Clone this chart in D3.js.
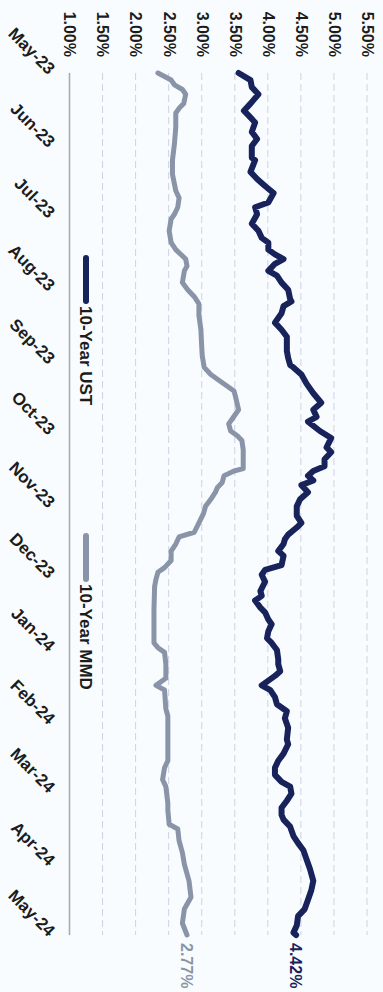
<!DOCTYPE html>
<html>
<head>
<meta charset="utf-8">
<script src="https://cdn.jsdelivr.net/npm/d3@7"></script>
<style>
  html, body { margin: 0; padding: 0; background: #f9fcfe; }
  svg { display: block; }
  text { font-family: "Liberation Sans", Arial, sans-serif; }
</style>
</head>
<body>
<svg id="chart" width="383" height="992"></svg>
<script>
// Yield axis ticks (percent)
const valueTicks = [1.0, 1.5, 2.0, 2.5, 3.0, 3.5, 4.0, 4.5, 5.0, 5.5];

// Monthly date ticks
const monthTicks = ["2023-05-17", "2023-06-17", "2023-07-17", "2023-08-17", "2023-09-17",
  "2023-10-17", "2023-11-17", "2023-12-17", "2024-01-17", "2024-02-17",
  "2024-03-17", "2024-04-17", "2024-05-17"];

const seriesNames = ["10-Year UST", "10-Year MMD"];

// 10-Year US Treasury yield
const ustDates = ["2023-05-17","2023-05-20","2023-05-23","2023-05-26","2023-05-30","2023-06-02",
  "2023-06-04","2023-06-07","2023-06-11","2023-06-14","2023-06-17","2023-06-22","2023-06-23",
  "2023-06-28","2023-07-01","2023-07-04","2023-07-07","2023-07-11","2023-07-13","2023-07-16",
  "2023-07-20","2023-07-23","2023-07-26","2023-07-28","2023-07-31","2023-08-02","2023-08-04",
  "2023-08-06","2023-08-09","2023-08-11","2023-08-14","2023-08-17","2023-08-21","2023-08-22",
  "2023-08-24","2023-08-27","2023-08-31","2023-09-03","2023-09-06","2023-09-12","2023-09-15",
  "2023-09-18","2023-09-19","2023-09-22","2023-09-26","2023-09-30","2023-10-04","2023-10-07",
  "2023-10-10","2023-10-12","2023-10-16","2023-10-19","2023-10-23","2023-10-25","2023-10-28",
  "2023-10-31","2023-11-02","2023-11-04","2023-11-06","2023-11-08","2023-11-11","2023-11-14",
  "2023-11-17","2023-11-21","2023-11-24","2023-11-26","2023-11-29","2023-12-01","2023-12-03",
  "2023-12-06","2023-12-08","2023-12-12","2023-12-14","2023-12-16","2023-12-19","2023-12-23",
  "2023-12-25","2023-12-27","2023-12-30","2024-01-01","2024-01-04","2024-01-06","2024-01-09",
  "2024-01-12","2024-01-14","2024-01-17","2024-01-21","2024-01-23","2024-01-26","2024-01-28",
  "2024-02-01","2024-02-03","2024-02-06","2024-02-09","2024-02-12","2024-02-15","2024-02-19",
  "2024-02-24","2024-02-26","2024-03-01","2024-03-04","2024-03-07","2024-03-10","2024-03-13",
  "2024-03-15","2024-03-18","2024-03-21","2024-03-24","2024-03-27","2024-03-29","2024-04-01",
  "2024-04-05","2024-04-08","2024-04-11","2024-04-15","2024-04-19","2024-04-24","2024-04-28",
  "2024-05-02","2024-05-06","2024-05-09","2024-05-13","2024-05-16","2024-05-17"];
const ustValues = [3.55,3.73,3.75,3.85,3.73,3.63,
  3.70,3.80,3.75,3.83,3.75,3.75,3.80,
  3.73,3.83,3.95,4.08,4.00,3.80,3.83,
  3.75,3.85,3.90,4.00,4.00,4.10,4.23,
  4.10,4.00,4.13,4.20,4.30,4.33,4.35,
  4.23,4.20,4.10,4.20,4.28,4.28,4.30,
  4.33,4.38,4.50,4.58,4.68,4.80,4.68,
  4.73,4.60,4.78,4.95,4.88,4.95,4.85,
  4.85,4.68,4.60,4.68,4.50,4.60,4.48,
  4.43,4.43,4.50,4.43,4.30,4.25,4.23,
  4.15,4.23,4.20,3.95,3.90,3.95,3.88,
  3.90,3.80,3.88,3.95,4.00,4.05,4.00,
  3.98,4.05,4.13,4.15,4.15,4.18,4.10,
  3.90,4.03,4.10,4.13,4.28,4.25,4.30,
  4.28,4.30,4.23,4.15,4.10,4.10,4.20,
  4.33,4.35,4.28,4.20,4.20,4.23,4.33,
  4.38,4.45,4.53,4.58,4.63,4.68,4.65,
  4.60,4.55,4.45,4.43,4.38,4.42];

// 10-Year MMD yield
const mmdDates = ["2023-05-17","2023-05-20","2023-05-22","2023-05-24","2023-05-26","2023-05-30",
  "2023-06-01","2023-06-03","2023-06-09","2023-06-16","2023-06-23","2023-06-29","2023-07-06",
  "2023-07-09","2023-07-13","2023-07-16","2023-07-18","2023-07-23","2023-07-28","2023-07-31",
  "2023-08-04","2023-08-07","2023-08-09","2023-08-14","2023-08-17","2023-08-20","2023-08-23",
  "2023-08-28","2023-09-03","2023-09-09","2023-09-14","2023-09-19","2023-09-22","2023-09-24",
  "2023-09-27","2023-09-29","2023-10-01","2023-10-07","2023-10-11","2023-10-13","2023-10-16",
  "2023-10-18","2023-10-20","2023-10-24","2023-10-28","2023-11-01","2023-11-02","2023-11-04",
  "2023-11-07","2023-11-09","2023-11-11","2023-11-14","2023-11-17","2023-11-20","2023-11-24",
  "2023-11-28","2023-11-30","2023-12-03","2023-12-06","2023-12-10","2023-12-13","2023-12-15",
  "2023-12-18","2023-12-21","2023-12-31","2024-01-14","2024-01-16","2024-01-18","2024-01-23",
  "2024-01-29","2024-02-01","2024-02-03","2024-02-11","2024-02-14","2024-03-04","2024-03-07",
  "2024-03-12","2024-03-15","2024-03-22","2024-03-25","2024-03-31","2024-04-02","2024-04-07",
  "2024-04-12","2024-04-17","2024-04-24","2024-05-01","2024-05-06","2024-05-12","2024-05-17"];
const mmdValues = [2.33,2.53,2.58,2.70,2.75,2.72,
  2.65,2.60,2.60,2.58,2.55,2.55,2.60,
  2.65,2.63,2.58,2.53,2.50,2.53,2.60,
  2.75,2.77,2.73,2.70,2.78,2.88,2.95,
  2.95,2.98,2.99,3.00,3.03,3.13,3.23,
  3.38,3.48,3.50,3.55,3.45,3.40,3.43,
  3.53,3.60,3.62,3.62,3.62,3.48,3.33,
  3.30,3.23,3.20,3.13,3.05,3.02,2.95,
  2.88,2.65,2.60,2.53,2.53,2.43,2.33,
  2.30,2.28,2.27,2.27,2.33,2.43,2.45,
  2.45,2.30,2.43,2.45,2.48,2.48,2.43,
  2.40,2.45,2.48,2.48,2.50,2.63,2.65,
  2.70,2.73,2.80,2.83,2.73,2.70,2.77];

const colors = { ust: "#17235a", mmd: "#8a94a8" };

// The chart is laid out landscape (W x H) and turned a quarter turn clockwise.
const W = 992, H = 383;
const parse = d3.timeParse("%Y-%m-%d");
const svg = d3.select("#chart");
svg.append("rect").attr("width", H).attr("height", W).attr("fill", "#f9fcfe");

const g = svg.append("g").attr("transform", `translate(${H},0) rotate(90)`);

const x0 = 73, x1 = 935, yBottom = 313, yTop = 15.5;
const monthDates = monthTicks.map(parse);
const x = d3.scaleTime().domain([monthDates[0], monthDates[monthDates.length - 1]]).range([x0, x1]);
const y = d3.scaleLinear().domain([1, 5.5]).range([yBottom, yTop]);

// Horizontal gridlines
const grid = g.append("g").attr("transform", `translate(${x0},0)`)
  .call(d3.axisLeft(y).tickValues(valueTicks).tickSize(-(x1 - x0)).tickFormat(""));
grid.select(".domain").remove();
grid.selectAll(".tick line")
  .attr("stroke", d => d === 1 ? "#a9abad" : "#cdd2e3")
  .attr("stroke-width", d => d === 1 ? 1.6 : 1)
  .attr("stroke-dasharray", d => d === 1 ? null : "7,4");

// Value axis labels
const yAxis = g.append("g").attr("transform", `translate(${x0},0)`)
  .call(d3.axisLeft(y).tickValues(valueTicks).tickSize(0).tickPadding(16)
    .tickFormat(d => d.toFixed(2) + "%"));
yAxis.select(".domain").remove();
yAxis.selectAll("text")
  .attr("fill", "#1c1c1c")
  .style("font-size", "16px")
  .style("font-weight", "bold");

// Date axis labels
const xAxis = g.append("g").attr("transform", `translate(0,${yBottom})`)
  .call(d3.axisBottom(x).tickValues(monthDates).tickSize(0).tickFormat(d3.timeFormat("%b-%y")));
xAxis.select(".domain").remove();
xAxis.selectAll("text")
  .attr("x", 0).attr("y", 0).attr("dy", 0)
  .attr("text-anchor", "end")
  .attr("transform", "translate(2,22) rotate(-45)")
  .attr("fill", "#1c1c1c")
  .style("font-size", "17px")
  .style("font-weight", "bold");

// Lines
const line = d3.line().x(d => x(d[0])).y(d => y(d[1]));
const ust = ustDates.map((d, i) => [parse(d), ustValues[i]]);
const mmd = mmdDates.map((d, i) => [parse(d), mmdValues[i]]);

g.append("path").datum(mmd)
  .attr("d", line).attr("fill", "none")
  .attr("stroke", colors.mmd).attr("stroke-width", 5)
  .attr("stroke-linejoin", "round").attr("stroke-linecap", "round");
g.append("path").datum(ust)
  .attr("d", line).attr("fill", "none")
  .attr("stroke", colors.ust).attr("stroke-width", 6)
  .attr("stroke-linejoin", "round").attr("stroke-linecap", "round");

// End-of-line value labels
[[mmd, colors.mmd], [ust, colors.ust]].forEach(([s, c]) => {
  const last = s[s.length - 1];
  g.append("text")
    .attr("x", x(last[0]) + 8).attr("y", y(last[1]))
    .attr("dy", "0.36em")
    .attr("fill", c)
    .style("font-size", "16px").style("font-weight", "bold")
    .text(last[1].toFixed(2) + "%");
});

// Legend
const legendY = 297;
const legendItems = [
  { name: seriesNames[0], color: colors.ust, at: 258 },
  { name: seriesNames[1], color: colors.mmd, at: 536 }
];
legendItems.forEach(it => {
  g.append("line")
    .attr("x1", it.at).attr("x2", it.at + 43)
    .attr("y1", legendY).attr("y2", legendY)
    .attr("stroke", it.color).attr("stroke-width", 6).attr("stroke-linecap", "round");
  g.append("text")
    .attr("x", it.at + 48).attr("y", legendY).attr("dy", "0.36em")
    .attr("fill", "#1c1c1c")
    .style("font-size", "17px").style("font-weight", "bold")
    .text(it.name);
});
</script>
</body>
</html>
